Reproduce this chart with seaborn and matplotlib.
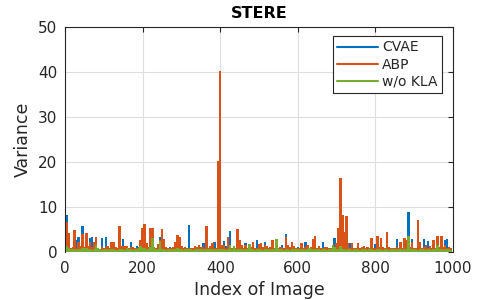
import matplotlib
matplotlib.use("Agg")
import matplotlib.pyplot as plt
from matplotlib.lines import Line2D
import pandas as pd
import seaborn as sns

# ---------------- data (one bin per 5 images) ----------------
IDX = list(range(0, 1000, 5))

CVAE = [
    4.1, 8.3, 0.8, 0.5, 1.0, 0.6, 2.8, 3.4, 0.9, 5.8,
    0.8, 1.0, 0.6, 3.2, 3.5, 0.7, 0.9, 0.5, 0.6, 3.2,
    0.5, 3.4, 0.6, 0.4, 0.8, 0.5, 0.3, 0.6, 0.9, 0.5,
    3.0, 0.5, 0.7, 0.4, 2.3, 0.6, 0.5, 1.4, 0.6, 0.8,
    0.6, 0.5, 0.8, 0.4, 0.6, 0.5, 0.7, 0.4, 0.9, 3.4,
    0.6, 0.4, 0.7, 0.5, 1.1, 0.6, 0.5, 0.4, 0.6, 0.5,
    0.5, 0.6, 0.4, 0.7, 6.0, 0.5, 0.4, 0.6, 0.5, 0.7,
    0.6, 2.0, 2.0, 0.5, 0.6, 0.4, 0.7, 2.4, 0.5, 0.6,
    0.5, 0.6, 2.6, 1.3, 0.6, 4.7, 0.5, 0.4, 0.6, 2.4,
    0.5, 0.6, 0.4, 2.1, 0.5, 1.3, 0.6, 0.5, 0.4, 2.7,
    0.5, 2.0, 0.6, 2.4, 0.5, 0.4, 0.6, 0.5, 0.7, 0.4,
    0.6, 0.5, 1.7, 0.4, 4.1, 0.6, 0.5, 0.7, 0.5, 0.4,
    1.1, 0.5, 0.6, 0.4, 2.4, 0.5, 0.6, 0.4, 0.5, 0.7,
    0.5, 0.6, 0.4, 2.4, 0.6, 0.5, 0.4, 0.6, 0.5, 3.2,
    0.5, 0.6, 0.7, 0.5, 0.4, 0.6, 0.5, 2.1, 0.6, 0.4,
    0.5, 0.4, 0.6, 0.5, 0.4, 0.6, 0.5, 0.4, 0.6, 0.5,
    1.9, 0.5, 0.4, 0.6, 0.5, 0.4, 0.6, 0.5, 0.4, 0.6,
    0.5, 3.0, 0.6, 0.5, 0.4, 0.6, 0.5, 9.0, 0.6, 3.0,
    0.5, 0.6, 0.4, 0.5, 0.6, 3.0, 0.5, 2.6, 0.4, 0.6,
    0.5, 0.4, 0.6, 0.5, 0.4, 0.6, 2.7, 3.0, 0.5, 0.8,
]

ABP = [
    1.2, 6.8, 4.2, 0.9, 1.1, 4.9, 1.0, 2.3, 1.5, 4.0,
    1.1, 4.2, 1.3, 2.4, 1.2, 2.2, 3.3, 1.0, 0.8, 1.1,
    0.9, 1.1, 1.3, 1.0, 2.2, 2.4, 1.1, 0.9, 5.9, 1.3,
    1.3, 1.3, 1.3, 0.9, 1.1, 1.2, 1.0, 0.9, 1.2, 2.8,
    5.4, 6.2, 2.1, 1.1, 5.5, 5.4, 1.2, 1.0, 1.9, 2.8,
    5.1, 2.9, 1.2, 0.9, 0.9, 1.0, 1.1, 2.2, 3.8, 3.4,
    1.3, 0.9, 1.2, 0.9, 1.0, 1.0, 0.9, 1.5, 1.1, 1.6,
    1.1, 1.2, 1.0, 5.9, 0.9, 1.3, 2.1, 1.0, 0.9, 20.2,
    40.3, 1.6, 1.7, 1.0, 3.4, 1.2, 0.9, 1.1, 0.9, 5.2,
    2.8, 1.6, 1.0, 1.7, 0.9, 1.2, 1.1, 2.4, 0.9, 1.0,
    1.9, 2.0, 1.1, 1.6, 1.3, 0.9, 1.1, 2.8, 1.0, 0.9,
    1.0, 1.1, 0.9, 0.9, 3.3, 1.6, 1.1, 2.3, 1.4, 0.9,
    0.9, 1.0, 2.0, 0.9, 1.2, 1.7, 1.0, 1.2, 3.0, 3.6,
    1.0, 1.3, 0.9, 0.9, 1.1, 1.1, 0.9, 0.9, 1.0, 1.2,
    2.1, 5.4, 16.5, 8.3, 4.5, 8.0, 2.0, 1.0, 2.0, 0.9,
    1.0, 2.0, 0.9, 1.1, 1.3, 0.9, 1.2, 1.0, 3.2, 0.9,
    0.9, 3.6, 1.1, 3.2, 1.2, 1.0, 4.5, 1.1, 0.9, 1.0,
    1.0, 1.1, 0.9, 2.3, 0.9, 3.2, 2.8, 1.1, 1.2, 2.4,
    1.0, 0.9, 7.1, 2.4, 1.0, 1.1, 1.6, 0.9, 1.4, 1.0,
    2.7, 1.0, 3.7, 1.1, 3.7, 1.2, 1.6, 0.9, 1.1, 0.9,
]

WO_KLA = [
    1.4, 1.3, 0.9, 0.7, 0.8, 0.8, 0.6, 0.7, 0.8, 0.9,
    1.0, 0.9, 0.8, 0.7, 0.6, 0.8, 1.7, 0.9, 0.7, 0.6,
    0.7, 0.8, 0.6, 0.8, 0.7, 0.8, 0.6, 0.5, 0.8, 0.7,
    0.8, 0.6, 0.9, 0.7, 0.8, 0.6, 0.7, 0.8, 0.9, 1.4,
    1.0, 0.9, 0.8, 0.7, 1.2, 3.2, 0.9, 0.8, 0.7, 2.6,
    0.8, 0.7, 0.6, 0.7, 0.8, 0.6, 0.7, 0.8, 0.9, 0.8,
    0.7, 0.6, 0.8, 0.7, 0.8, 0.7, 0.6, 0.8, 0.7, 0.8,
    0.7, 0.8, 0.6, 0.7, 0.8, 0.7, 0.8, 0.6, 0.7, 0.8,
    0.8, 0.7, 0.8, 0.6, 0.7, 1.6, 0.7, 1.3, 0.8, 0.7,
    0.8, 0.7, 0.6, 0.8, 0.7, 1.9, 0.8, 0.7, 0.6, 0.8,
    0.7, 0.8, 0.6, 0.7, 0.8, 0.7, 0.6, 0.8, 0.7, 2.9,
    0.8, 0.7, 0.8, 0.6, 0.8, 0.7, 0.6, 0.8, 0.7, 0.8,
    0.7, 0.6, 0.8, 0.7, 0.6, 0.8, 0.9, 0.7, 0.6, 0.8,
    0.7, 0.8, 0.6, 0.7, 0.8, 0.6, 0.7, 0.8, 1.6, 1.2,
    0.8, 0.7, 1.3, 0.8, 0.7, 0.6, 0.8, 0.7, 0.6, 0.8,
    0.7, 0.8, 0.6, 0.7, 0.8, 0.7, 0.6, 0.8, 0.7, 0.6,
    0.6, 0.7, 0.8, 0.7, 0.6, 0.8, 0.7, 0.6, 0.8, 0.7,
    0.7, 0.6, 0.8, 0.7, 0.6, 0.8, 0.7, 3.7, 0.8, 0.7,
    0.7, 0.8, 0.6, 0.7, 0.8, 0.7, 0.6, 0.8, 0.7, 0.6,
    0.8, 0.7, 1.7, 0.8, 0.7, 0.6, 0.8, 0.7, 0.8, 0.6,
]

MODELS = ["CVAE", "ABP", "w/o KLA"]
COLORS = ["#0072BD", "#D95319", "#77AC30"]
X_TICKS = [0, 200, 400, 600, 800, 1000]
Y_TICKS = [0, 10, 20, 30, 40, 50]

# ---------------- style ----------------
sns.set_style("white")
plt.rcParams["font.family"] = ["DejaVu Sans"]
TXT = "#262626"

df = pd.DataFrame({
    "Index": IDX * 3,
    "Variance": CVAE + ABP + WO_KLA,
    "Model": [MODELS[0]] * len(IDX) + [MODELS[1]] * len(IDX) + [MODELS[2]] * len(IDX),
})

fig = plt.figure(figsize=(5.01, 3.0), dpi=100)
ax = fig.add_axes([65 / 501, 1 - 252.3 / 300, 388 / 501, 225 / 300])

sns.barplot(
    data=df, x="Index", y="Variance", hue="Model", hue_order=MODELS,
    palette=COLORS, dodge=False, native_scale=True, width=1.25,
    saturation=1, errorbar=None, legend=False, linewidth=0, ax=ax,
)

ax.set_xlim(0, 1000)
ax.set_ylim(0, 50)
ax.set_xticks(X_TICKS)
ax.set_yticks(Y_TICKS)
ax.set_xticklabels([str(t) for t in X_TICKS])
ax.set_yticklabels([str(t) for t in Y_TICKS])
ax.grid(True, color="#dedede", linewidth=0.8)
ax.set_axisbelow(True)

for side in ["left", "top", "right"]:
    ax.spines[side].set_visible(True)
    ax.spines[side].set_color(TXT)
    ax.spines[side].set_linewidth(0.8)
ax.spines["bottom"].set_visible(False)

ax.tick_params(axis="both", direction="in", length=3.5, width=0.8,
               colors=TXT, labelsize=11, top=True, right=True)
ax.tick_params(axis="x", pad=6.5)
ax.tick_params(axis="y", pad=5.5)

ax.set_xlabel("Index of Image", fontsize=12.5, color=TXT)
ax.set_ylabel("Variance", fontsize=12.5, color=TXT)
ax.xaxis.set_label_coords(0.5, -0.128)
ax.yaxis.set_label_coords(-0.085, 0.5)
ax.set_title("STERE", fontsize=11.5, fontweight="bold", color="black", pad=6.5)

handles = [Line2D([0], [0], color=c, lw=1.5) for c in COLORS]
leg = ax.legend(
    handles, MODELS, loc="upper right", bbox_to_anchor=(0.9716, 0.961),
    borderaxespad=0, fontsize=10, frameon=True, fancybox=False,
    framealpha=1, edgecolor=TXT, handlelength=2.9, handletextpad=0.32,
    labelspacing=0.23, borderpad=0.31,
)
leg.get_frame().set_linewidth(0.8)
for t in leg.get_texts():
    t.set_color(TXT)

fig.savefig("out.png", dpi=100)
